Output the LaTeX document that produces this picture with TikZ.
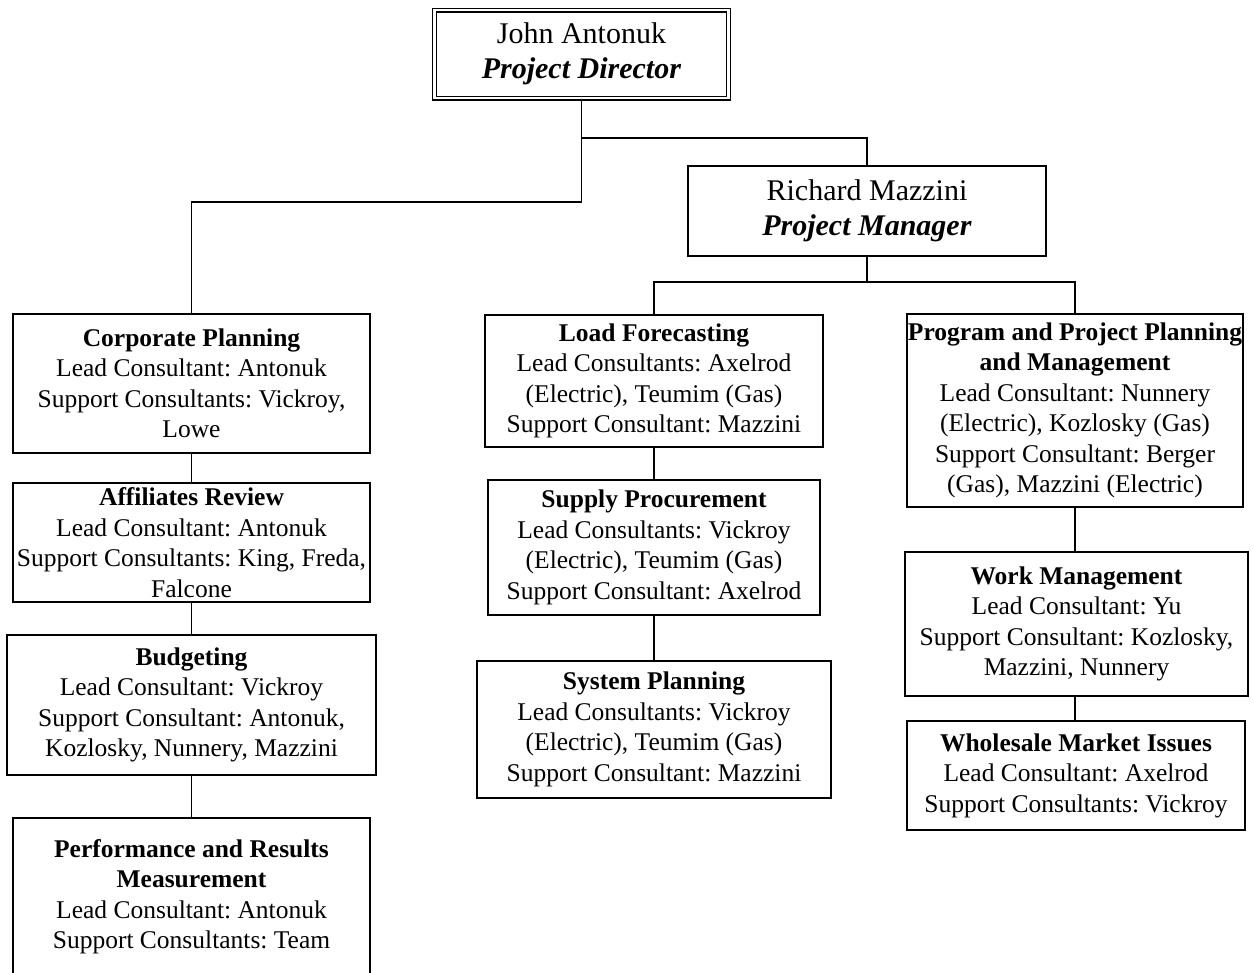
\documentclass[tikz,border=0pt]{standalone}
\usepackage{fontspec}
\setmainfont{Liberation Serif}
\frenchspacing
\newcommand{\bodyfont}{\fontsize{25.5}{30.5}\selectfont}
\newcommand{\headfont}{\fontsize{30}{34.5}\selectfont}
\begin{document}
\begin{tikzpicture}[x=1pt,y=-1pt,
  box/.style={draw, line width=1.4pt, align=center, inner sep=0pt, font=\bodyfont},
  headbox/.style={box, font=\headfont},
  link/.style={line width=1.4pt}]
\clip (0,0) rectangle (1253,972);
\fill[white] (0,0) rectangle (1253,972);

% leadership
\node[headbox, double, double distance=2.6pt, line width=1.2pt,
      minimum width=294pt, minimum height=88pt] (dir) at (581.5,54)
  {John Antonuk\\\textbf{\textit{Project Director}}};
\node[headbox, minimum width=358pt, minimum height=90pt] (mgr) at (867,211)
  {Richard Mazzini\\\textbf{\textit{Project Manager}}};

% left column
\node[box, minimum width=357pt, minimum height=139pt] (corp) at (191.5,383.5)
  {\textbf{Corporate Planning}\\Lead Consultant: Antonuk\\Support Consultants: Vickroy,\\Lowe};
\node[box, minimum width=357pt, minimum height=119pt] (aff) at (191.5,542.5)
  {\textbf{Affiliates Review}\\Lead Consultant: Antonuk\\Support Consultants: King, Freda,\\Falcone};
\node[box, minimum width=369pt, minimum height=140pt] (bud) at (191.5,705)
  {\textbf{Budgeting}\\Lead Consultant: Vickroy\\Support Consultant: Antonuk,\\Kozlosky, Nunnery, Mazzini};
\node[box, minimum width=357pt, minimum height=157pt] (perf) at (191.5,896.5)
  {\textbf{Performance and Results}\\\textbf{Measurement}\\Lead Consultant: Antonuk\\Support Consultants: Team};

% middle column
\node[box, minimum width=338pt, minimum height=132pt] (load) at (654,381)
  {\textbf{Load Forecasting}\\Lead Consultants: Axelrod\\(Electric), Teumim (Gas)\\Support Consultant: Mazzini};
\node[box, minimum width=332pt, minimum height=135pt] (supp) at (654,547.5)
  {\textbf{Supply Procurement}\\Lead Consultants: Vickroy\\(Electric), Teumim (Gas)\\Support Consultant: Axelrod};
\node[box, minimum width=354pt, minimum height=137pt] (sys) at (654,729.5)
  {\textbf{System Planning}\\Lead Consultants: Vickroy\\(Electric), Teumim (Gas)\\Support Consultant: Mazzini};

% right column
\node[box, minimum width=336pt, minimum height=193pt] (prog) at (1075,410.5)
  {\textbf{Program and Project Planning}\\\textbf{and Management}\\Lead Consultant: Nunnery\\(Electric), Kozlosky (Gas)\\Support Consultant: Berger\\(Gas), Mazzini (Electric)};
\node[box, minimum width=343pt, minimum height=144pt] (work) at (1076.5,624)
  {\textbf{Work Management}\\Lead Consultant: Yu\\Support Consultant: Kozlosky,\\Mazzini, Nunnery};
\node[box, minimum width=338pt, minimum height=109pt] (whole) at (1076,775.5)
  {\textbf{Wholesale Market Issues}\\Lead Consultant: Axelrod\\Support Consultants: Vickroy};

% bus levels
\coordinate (busM) at (867,138);
\coordinate (busL) at (191.5,202);
\coordinate (busA) at (654,282);
\coordinate (busB) at (1075,282);

% connectors
\draw[link] (dir.south) |- (busM) -| (mgr.north);
\draw[link] (dir.south) |- (busL) -| (corp.north);
\draw[link] (mgr.south) |- (busA) -| (load.north);
\draw[link] (mgr.south) |- (busB) -| (prog.north);

\draw[link] (corp.south) -- (aff.north);
\draw[link] (aff.south) -- (bud.north);
\draw[link] (bud.south) -- (perf.north);

\draw[link] (load.south) -- (supp.north);
\draw[link] (supp.south) -- (sys.north);

\draw[link] (prog.south) -- (prog.south |- work.north);
\draw[link] (work.south -| prog.south) -- (prog.south |- whole.north);
\end{tikzpicture}
\end{document}
